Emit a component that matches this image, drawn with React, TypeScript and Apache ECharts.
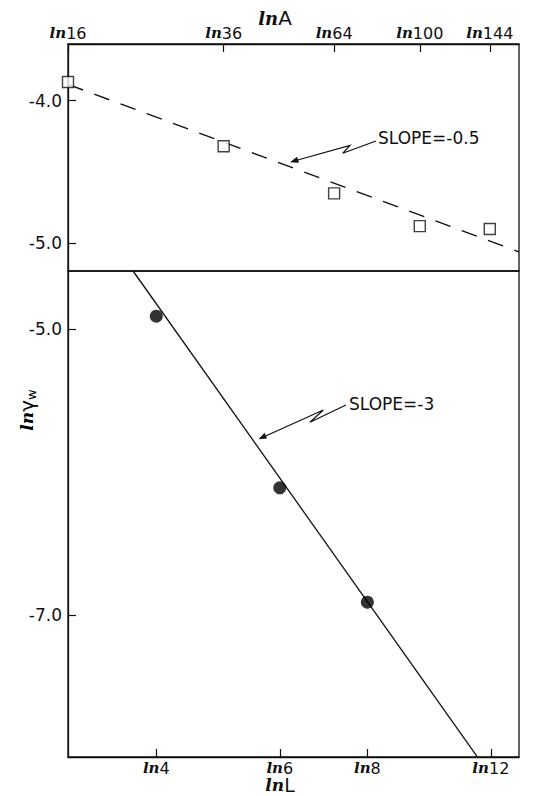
import React, { useEffect, useRef } from "react";
import * as echarts from "echarts";

// Tick values (the axis shows ln of these)
const areaTicks = [16, 36, 64, 100, 144];
const lengthTicks = [4, 6, 8, 12];
const yTopTicks = [-4.0, -5.0];
const yBottomTicks = [-5.0, -7.0];

// Upper panel: ln(gamma_w) vs ln A (open squares)
const areaPoints = [16, 36, 64, 100, 144];
const gammaTop = [-3.87, -4.32, -4.65, -4.88, -4.9];

// Lower panel: ln(gamma_w) vs ln L (filled circles)
const lengthPoints = [4, 6, 8];
const gammaBottom = [-4.91, -6.11, -6.91];

// Fitted lines (endpoints in data space)
const fitTopX = [2.7726, 5.122];
const fitTopY = [-3.887, -5.06];
const fitBottomX = [1.31, 2.44];
const fitBottomY = [-4.594, -7.99];

const LN_STYLE = {
  fontFamily: "DejaVu Serif",
  fontStyle: "italic",
  fontWeight: "bold",
  fontSize: 15,
  color: "#111",
};

export default function App() {
  const ref = useRef<HTMLDivElement>(null);

  useEffect(() => {
    if (!ref.current) return;
    const chart = echarts.init(ref.current, null, { renderer: "svg" });

    const fmtLn = (ticks: number[]) => (v: number) => {
      const n = ticks.find((t) => Math.abs(Math.log(t) - v) < 1e-4);
      return n === undefined ? "" : `{ln|ln}{n|${n}}`;
    };

    const tickRich = {
      ln: LN_STYLE,
      n: { fontFamily: "DejaVu Sans", fontSize: 16, color: "#111" },
    };

    const axisLine = { show: true, lineStyle: { color: "#111", width: 1.3 } };

    const option: any = {
      animation: false,
      backgroundColor: "#fff",
      grid: [
        { left: 68, top: 44, width: 451, height: 227, show: true, borderColor: "#111", borderWidth: 1.3, containLabel: false, outerBoundsMode: "none" },
        { left: 68, top: 271, width: 451, height: 486, show: true, borderColor: "#111", borderWidth: 1.3, containLabel: false, outerBoundsMode: "none" },
      ],
      xAxis: [
        {
          gridIndex: 0,
          type: "value",
          position: "top",
          min: Math.log(16),
          max: 5.122,
          axisLine,
          splitLine: { show: false },
          axisTick: { show: true, inside: true, length: 8, customValues: areaTicks.map(Math.log), lineStyle: { color: "#111", width: 1.2 } },
          axisLabel: { customValues: areaTicks.map(Math.log), formatter: fmtLn(areaTicks), margin: 3, rich: tickRich },
          name: "{ln|ln}{b|A}",
          nameLocation: "middle",
          nameMoveOverlap: false,
          nameGap: 17,
          nameTextStyle: {
            padding: [0, 37, 0, 0],
            lineHeight: 18,
            rich: {
              ln: { ...LN_STYLE, fontSize: 18, lineHeight: 18 },
              b: { fontFamily: "DejaVu Sans", fontSize: 20, color: "#111", lineHeight: 18 },
            },
          },
        },
        {
          gridIndex: 1,
          type: "value",
          position: "bottom",
          min: 1.0963,
          max: 2.5774,
          axisLine,
          splitLine: { show: false },
          axisTick: { show: true, inside: true, length: 8, customValues: lengthTicks.map(Math.log), lineStyle: { color: "#111", width: 1.2 } },
          axisLabel: { customValues: lengthTicks.map(Math.log), formatter: fmtLn(lengthTicks), margin: 3, rich: tickRich },
          name: "{ln|ln}{b|L}",
          nameLocation: "middle",
          nameMoveOverlap: false,
          nameGap: 19,
          nameTextStyle: {
            padding: [0, 27, 0, 0],
            lineHeight: 17,
            rich: {
              ln: { ...LN_STYLE, fontSize: 17, lineHeight: 17 },
              b: { fontFamily: "DejaVu Sans", fontSize: 19, color: "#111", lineHeight: 17 },
            },
          },
        },
      ],
      yAxis: [
        {
          gridIndex: 0,
          type: "value",
          min: -5.194,
          max: -3.604,
          axisLine,
          splitLine: { show: false },
          axisTick: { show: true, inside: true, length: 8, customValues: yTopTicks, lineStyle: { color: "#111", width: 1.2 } },
          axisLabel: {
            customValues: yTopTicks,
            formatter: (v: number) => v.toFixed(1),
            margin: 6,
            fontFamily: "DejaVu Sans",
            fontSize: 17,
            color: "#111",
          },
        },
        {
          gridIndex: 1,
          type: "value",
          min: -7.993,
          max: -4.594,
          axisLine,
          splitLine: { show: false },
          axisTick: { show: true, inside: true, length: 8, customValues: yBottomTicks, lineStyle: { color: "#111", width: 1.2 } },
          axisLabel: {
            customValues: yBottomTicks,
            formatter: (v: number) => v.toFixed(1),
            margin: 6,
            fontFamily: "DejaVu Sans",
            fontSize: 17,
            color: "#111",
          },
        },
      ],
      series: [
        {
          type: "line",
          xAxisIndex: 0,
          yAxisIndex: 0,
          data: fitTopX.map((x, i) => [x, fitTopY[i]]),
          symbol: "none",
          clip: true,
          lineStyle: { color: "#111", width: 1.4, type: [16, 12] },
          z: 2,
        },
        {
          type: "scatter",
          xAxisIndex: 0,
          yAxisIndex: 0,
          data: areaPoints.map((a, i) => [Math.log(a), gammaTop[i]]),
          symbol: "rect",
          symbolSize: 11,
          itemStyle: { color: "#fff", borderColor: "#111", borderWidth: 1.4 },
          z: 3,
        },
        {
          type: "line",
          xAxisIndex: 1,
          yAxisIndex: 1,
          data: fitBottomX.map((x, i) => [x, fitBottomY[i]]),
          symbol: "none",
          clip: true,
          lineStyle: { color: "#111", width: 1.3 },
          z: 2,
        },
        {
          type: "scatter",
          xAxisIndex: 1,
          yAxisIndex: 1,
          data: lengthPoints.map((l, i) => [Math.log(l), gammaBottom[i]]),
          symbol: "circle",
          symbolSize: 13,
          itemStyle: { color: "#000" },
          z: 3,
        },
      ],
      graphic: [
        {
          type: "text",
          x: 27,
          y: 410,
          rotation: Math.PI / 2,
          style: {
            text: "{ln|ln}{g|γ}{w|w}",
            align: "center",
            verticalAlign: "middle",
            rich: {
              ln: { ...LN_STYLE, fontSize: 17 },
              g: { fontFamily: "DejaVu Sans", fontSize: 20, color: "#111" },
              w: { fontFamily: "DejaVu Sans", fontSize: 13, color: "#111", padding: [8, 0, 0, 0] },
            },
          },
        },
        {
          type: "text",
          x: 378,
          y: 138,
          style: {
            text: "SLOPE=-0.5",
            fontFamily: "DejaVu Sans",
            fontSize: 17,
            fill: "#111",
            verticalAlign: "middle",
          },
        },
        {
          type: "polyline",
          shape: { points: [[376, 141], [342.7, 153.3], [350, 145.3], [296, 160.5]] },
          style: { stroke: "#111", lineWidth: 1.2, fill: "none" },
        },
        {
          type: "polygon",
          shape: { points: [[290, 162.3], [299, 162.8], [297, 156.8]] },
          style: { fill: "#111" },
        },
        {
          type: "text",
          x: 349,
          y: 404,
          style: {
            text: "SLOPE=-3",
            fontFamily: "DejaVu Sans",
            fontSize: 17,
            fill: "#111",
            verticalAlign: "middle",
          },
        },
        {
          type: "polyline",
          shape: { points: [[346, 405], [310, 422.3], [323.3, 410], [264, 436.8]] },
          style: { stroke: "#111", lineWidth: 1.2, fill: "none" },
        },
        {
          type: "polygon",
          shape: { points: [[258.5, 439.3], [267, 438.6], [264.5, 432.7]] },
          style: { fill: "#111" },
        },
      ],
    };

    chart.setOption(option);
    return () => chart.dispose();
  }, []);

  return (
    <div
      ref={ref}
      style={{ position: "fixed", left: 0, top: 0, width: 534, height: 796, background: "#fff" }}
    />
  );
}
